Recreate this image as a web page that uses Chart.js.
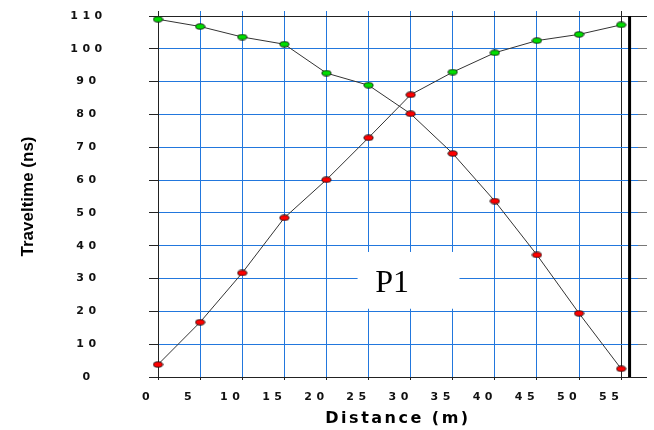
<!DOCTYPE html>
<html>
<head>
<meta charset="utf-8">
<script src="https://cdn.jsdelivr.net/npm/chart.js@4.4.1/dist/chart.umd.min.js"></script>
<style>
  html, body { margin: 0; padding: 0; background: #fff; }
</style>
</head>
<body>
<canvas id="mycanvas" width="654" height="430"></canvas>
<script>
// geophone positions (m) and picked first-arrival times (ns)
var distance    = [0, 5, 10, 15, 20, 25, 30, 35, 40, 45, 50, 55];
var forwardTime = [3.8, 16.7, 31.7, 48.5, 60.1, 72.9, 86.0, 92.9, 98.8, 102.5, 104.4, 107.3];
var reverseTime = [109.0, 106.8, 103.6, 101.4, 92.6, 88.9, 80.2, 68.1, 53.6, 37.2, 19.4, 2.5];

// which wave each pick belongs to
var forwardWave = ['direct', 'direct', 'direct', 'direct', 'direct', 'direct', 'direct',
                   'refracted', 'refracted', 'refracted', 'refracted', 'refracted'];
var reverseWave = ['refracted', 'refracted', 'refracted', 'refracted', 'refracted', 'refracted',
                   'direct', 'direct', 'direct', 'direct', 'direct', 'direct'];

// end of the spread
var spreadEndX = [56, 56];
var spreadEndY = [0, 110];

var xMin = 0, xMax = 57, xStep = 5;
var yMin = 0, yMax = 110, yStep = 10;
var profileName = 'P1';

var gridBlue = '#2277dd';
var dark = '#222';

function makeMarker(fill) {
  var c = document.createElement('canvas');
  c.width = 11; c.height = 7;
  var g = c.getContext('2d');
  g.beginPath();
  g.ellipse(5.5, 3.5, 4.6, 2.7, 0, 0, Math.PI * 2);
  g.fillStyle = fill;
  g.fill();
  g.lineWidth = 0.9;
  g.strokeStyle = '#111';
  g.stroke();
  return c;
}
var markers = { direct: makeMarker('#ff0000'), refracted: makeMarker('#00dd00') };

function toPoints(xs, ys) {
  var pts = [];
  for (var i in xs) {
    pts.push({ x: xs[i], y: ys[i] });
  }
  return pts;
}

// stretch some text the way the original software did
function spaced(scale, method, spacing) {
  if (scale['_sp_' + method]) return;
  var orig = scale[method];
  scale[method] = function (a) {
    var ctx = this.ctx;
    var prev = ctx.letterSpacing;
    ctx.letterSpacing = spacing;
    orig.call(this, a);
    ctx.letterSpacing = prev;
  };
  scale['_sp_' + method] = true;
}

var spacingPlugin = {
  id: 'spacing',
  beforeDraw: function (chart) {
    spaced(chart.scales.x, 'drawLabels', '4.5px');
    spaced(chart.scales.x, 'drawTitle', '2.5px');
    spaced(chart.scales.y, 'drawLabels', '4.5px');
  }
};

var labelPlugin = {
  id: 'profileLabel',
  beforeDatasetsDraw: function (chart) {
    var ctx = chart.ctx, sx = chart.scales.x, sy = chart.scales.y;
    var x1 = sx.getPixelForValue(23.7), x2 = sx.getPixelForValue(35.8);
    var y1 = sy.getPixelForValue(38.1), y2 = sy.getPixelForValue(20.8);
    ctx.save();
    ctx.fillStyle = '#fff';
    ctx.fillRect(x1, y1, x2 - x1, y2 - y1);
    ctx.fillStyle = '#000';
    ctx.font = '32px "Liberation Serif", "Times New Roman", serif';
    ctx.textAlign = 'center';
    ctx.textBaseline = 'alphabetic';
    ctx.fillText(profileName, sx.getPixelForValue(27.8), sy.getPixelForValue(25.9));
    ctx.restore();
  }
};

function fixSize(w, h) {
  return function (scale) {
    if (w !== null) scale.width = w;
    if (h !== null) scale.height = h;
    scale.paddingLeft = 0; scale.paddingRight = 0;
    scale.paddingTop = 0; scale.paddingBottom = 0;
  };
}

var tickFont = { family: '"DejaVu Sans", Verdana, sans-serif', size: 11, weight: 'bold' };

var ctx = document.getElementById('mycanvas');

var chartdata = {
  datasets: [
    {
      label: 'forward',
      data: toPoints(distance, forwardTime),
      borderColor: '#333',
      borderWidth: 1,
      fill: false,
      clip: false,
      pointStyle: function (c) { return markers[forwardWave[c.dataIndex]]; },
      pointRadius: 4
    },
    {
      label: 'reverse',
      data: toPoints(distance, reverseTime),
      borderColor: '#333',
      borderWidth: 1,
      fill: false,
      clip: false,
      pointStyle: function (c) { return markers[reverseWave[c.dataIndex]]; },
      pointRadius: 4
    },
    {
      label: 'spread end',
      data: toPoints(spreadEndX, spreadEndY),
      borderColor: '#000',
      borderWidth: 3,
      pointRadius: 0,
      fill: false
    }
  ]
};

var LineGraph = new Chart(ctx, {
  type: 'line',
  data: chartdata,
  plugins: [spacingPlugin, labelPlugin],
  options: {
    responsive: false,
    animation: false,
    events: [],
    layout: { padding: 0 },
    plugins: { legend: { display: false }, tooltip: { enabled: false } },
    scales: {
      x: {
        type: 'linear', position: 'bottom', min: xMin, max: xMax,
        afterFit: fixSize(null, 53),
        grid: {
          color: function (c) { return (c.tick.value === 0 || c.tick.value === 55) ? dark : gridBlue; },
          tickColor: dark, tickLength: 3
        },
        border: { color: dark },
        ticks: { stepSize: xStep, includeBounds: false, maxRotation: 0, autoSkip: false,
                 labelOffset: -10, padding: 11, color: '#111', font: tickFont },
        title: { display: true, text: 'Distance (m)', color: '#000', padding: { top: 0, bottom: 2 },
                 font: { family: '"DejaVu Sans", Verdana, sans-serif', size: 16, weight: 'bold' } }
      },
      x2: {
        type: 'linear', position: 'top', min: xMin, max: xMax,
        afterFit: fixSize(null, 16),
        grid: { drawOnChartArea: false, tickLength: 5,
                tickColor: function (c) { return (c.tick.value === 0 || c.tick.value === 55) ? dark : gridBlue; } },
        border: { display: false },
        ticks: { stepSize: xStep, includeBounds: false, display: false }
      },
      y: {
        type: 'linear', position: 'left', min: yMin, max: yMax,
        afterFit: fixSize(158, null),
        grid: {
          color: function (c) { return (c.tick.value === 0 || c.tick.value === 110) ? dark : gridBlue; },
          tickColor: dark, tickLength: 9
        },
        border: { color: dark },
        ticks: { stepSize: yStep, crossAlign: 'center', padding: 49, color: '#111', font: tickFont },
        title: { display: true, text: 'Traveltime (ns)', color: '#000', padding: { top: 18, bottom: 0 },
                 font: { family: '"Liberation Sans", Arial, sans-serif', size: 17, weight: 'bold' } }
      },
      y2: {
        type: 'linear', position: 'right', min: yMin, max: yMax,
        afterFit: fixSize(16, null),
        grid: { drawOnChartArea: false, tickLength: 9,
                tickColor: function (c) { return (c.tick.value === 0 || c.tick.value === 110) ? dark : '#777'; } },
        border: { display: false },
        ticks: { stepSize: yStep, display: false }
      }
    }
  }
});
</script>
</body>
</html>
